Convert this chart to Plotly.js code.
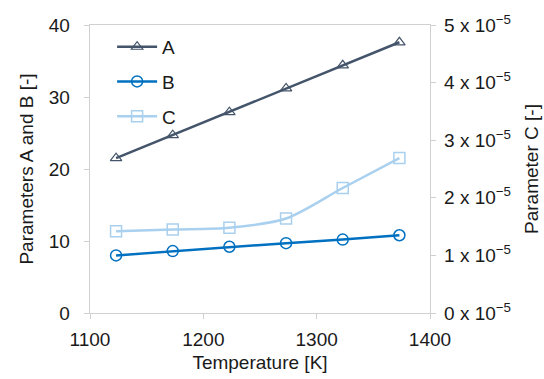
<!DOCTYPE html>
<html>
<head>
<meta charset="utf-8">
<script src="https://cdn.plot.ly/plotly-3.0.1.min.js"></script>
<style>
  html, body { margin: 0; padding: 0; background: #fff; }
  #chart { width: 544px; height: 379px; }
</style>
</head>
<body>
<div id="chart"></div>
<script>
// Temperatures [K]
const temperature = [1123, 1173, 1223, 1273, 1323, 1373];
// Parameter series
const paramA = [21.5, 24.7, 27.9, 31.2, 34.4, 37.6];
const paramB = [8.0, 8.6, 9.2, 9.7, 10.2, 10.8];
const paramC = [1.42e-5, 1.45e-5, 1.48e-5, 1.64e-5, 2.17e-5, 2.69e-5];

// Right-axis tick labels
const cTickVals = [0, 1e-5, 2e-5, 3e-5, 4e-5, 5e-5];
const cTickText = ['0', '1', '2', '3', '4', '5'].map(m => m + ' x 10<sup>\u22125</sup>');

const FONT = 'Liberation Sans, Arial, sans-serif';
const FS = 19;
const AXIS_GREY = '#d0d0d0';
const TEXT = '#1a1a1a';

const traces = [
  {
    x: temperature, y: paramA, name: 'A', mode: 'lines+markers', legendgroup: 'a',
    line: { color: '#44546a', width: 2.5 },
    marker: { symbol: 'triangle-up-open', size: 10, color: '#44546a', line: { width: 1.2 } }
  },
  {
    x: temperature, y: paramB, name: 'B', mode: 'lines+markers', legendgroup: 'b',
    line: { color: '#0070c0', width: 2.5 },
    marker: { symbol: 'circle-open', size: 11, color: '#0070c0', line: { width: 1.5 } }
  },
  {
    x: temperature, y: paramC, name: 'C', mode: 'lines+markers', yaxis: 'y2', legendgroup: 'c',
    line: { color: '#a9d0ee', width: 2.5, shape: 'spline', smoothing: 0.8 },
    marker: { symbol: 'square-open', size: 11, color: '#a9d0ee', line: { width: 1.5 } }
  }
];

const layout = {
  width: 544, height: 379,
  margin: { l: 90, r: 114, t: 25, b: 66 },
  paper_bgcolor: '#fff', plot_bgcolor: '#fff',
  font: { family: FONT, size: FS, color: TEXT },
  showlegend: true,
  legend: {
    x: 0.065, y: 0.99, xanchor: 'left', yanchor: 'top',
    bgcolor: 'rgba(0,0,0,0)', font: { size: FS, color: TEXT },
    traceorder: 'grouped', tracegroupgap: 7, itemwidth: 40
  },
  xaxis: {
    range: [1100, 1400], tickvals: [1100, 1200, 1300, 1400],
    showgrid: false, zeroline: false,
    showline: true, linecolor: AXIS_GREY, linewidth: 1.3, mirror: true,
    ticks: 'outside', ticklen: 5, tickcolor: AXIS_GREY, ticklabelstandoff: 4,
    tickfont: { size: FS, color: TEXT },
    title: { text: 'Temperature [K]', font: { size: FS, color: TEXT }, standoff: 6 }
  },
  yaxis: {
    range: [0, 40], tickvals: [0, 10, 20, 30, 40],
    showgrid: false, zeroline: false,
    showline: true, linecolor: AXIS_GREY, linewidth: 1.3,
    ticks: 'outside', ticklen: 5, tickcolor: AXIS_GREY, ticklabelstandoff: 10,
    tickfont: { size: FS, color: TEXT },
    title: { text: 'Parameters A and B [-]', font: { size: FS, color: TEXT }, standoff: 10 }
  },
  yaxis2: {
    overlaying: 'y', side: 'right',
    range: [0, 5e-5], tickvals: cTickVals, ticktext: cTickText,
    showgrid: false, zeroline: false,
    showline: true, linecolor: AXIS_GREY, linewidth: 1.3,
    ticks: 'outside', ticklen: 5, tickcolor: AXIS_GREY, ticklabelstandoff: 4,
    tickfont: { size: FS, color: TEXT },
    title: { text: 'Parameter C [-]', font: { size: FS, color: TEXT }, standoff: 14 }
  }
};

Plotly.newPlot('chart', traces, layout, { displayModeBar: false, staticPlot: true });
</script>
</body>
</html>
